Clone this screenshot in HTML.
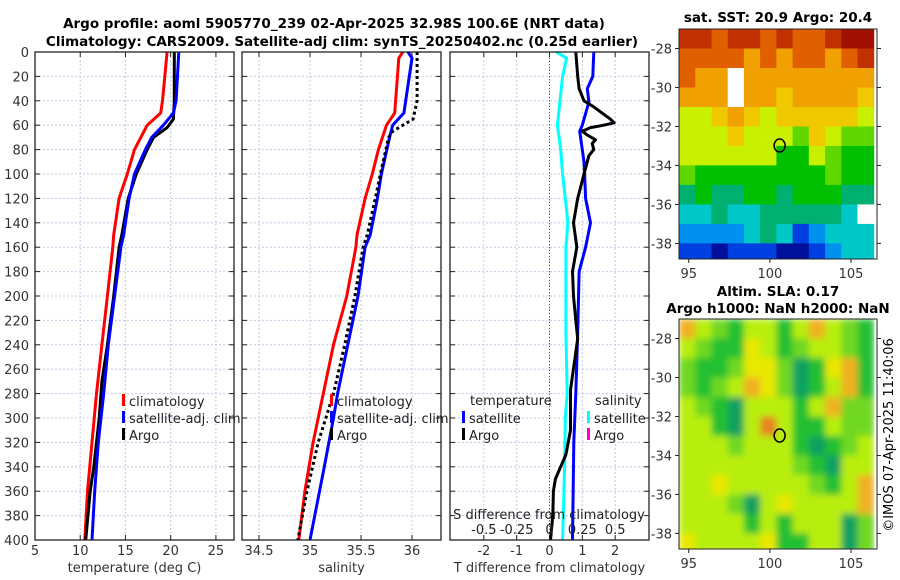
<!DOCTYPE html>
<html><head><meta charset="utf-8">
<style>
html,body{margin:0;padding:0;background:#fff;}
svg{display:block;font-family:"DejaVu Sans","Liberation Sans",sans-serif;}
</style></head>
<body>
<svg id="fig" width="900" height="580" viewBox="0 0 900 580" xmlns="http://www.w3.org/2000/svg">
<defs>
<filter id="blur" x="0" y="0" width="1" height="1"><feGaussianBlur stdDeviation="3.5"/></filter>
<clipPath id="clipm2"><rect x="679" y="319" width="198" height="230"/></clipPath>
</defs>
<text x="334" y="28" text-anchor="middle" font-size="13.5" font-weight="bold">Argo profile: aoml 5905770_239 02-Apr-2025 32.98S 100.6E (NRT data)</text>
<text x="342" y="46" text-anchor="middle" font-size="13.5" font-weight="bold">Climatology: CARS2009. Satellite-adj clim: synTS_20250402.nc (0.25d earlier)</text>
<text x="778" y="22" text-anchor="middle" font-size="13.5" font-weight="bold">sat. SST: 20.9 Argo: 20.4</text>
<text x="778" y="296" text-anchor="middle" font-size="13.5" font-weight="bold">Altim. SLA: 0.17</text>
<text x="778" y="313" text-anchor="middle" font-size="13.5" font-weight="bold">Argo h1000: NaN h2000: NaN</text>
<text transform="translate(893,435) rotate(-90)" text-anchor="middle" font-size="13">©IMOS 07-Apr-2025 11:40:06</text>
<g id="layer"></g>
</svg>
<script>
// ---------- data ----------
const depthTicks = [0,20,40,60,80,100,120,140,160,180,200,220,240,260,280,300,320,340,360,380,400];
const tTicks = [5,10,15,20,25];
const sTicks = [34.5,35,35.5,36];
const dTTicks = [-2,-1,0,1,2];
const dSTickLabels = ["-0.5","-0.25","0","0.25","0.5"];
const dSTicks = [-0.5,-0.25,0,0.25,0.5];

const climTDepth = [0,40,50,60,80,100,120,150,160,200,240,280,320,360,400];
const climT      = [19.6,19.1,18.9,17.4,16.0,15.2,14.3,13.7,13.6,13.0,12.4,11.8,11.3,10.8,10.5];
const satTDepth  = [0,40,50,60,70,80,100,120,150,160,200,240,280,320,360,400];
const satT       = [20.9,20.6,20.3,19.2,17.9,17.2,16.0,15.4,14.8,14.5,13.8,13.1,12.6,12.0,11.6,11.3];
const argoTDepth = [0,40,55,62,70,80,100,120,150,160,200,240,270,300,340,360,400];
const argoT      = [20.4,20.4,20.3,19.6,18.1,17.4,16.2,15.3,14.6,14.3,13.7,13.0,12.4,12.1,11.5,11.1,10.6];

const climSDepth = [0,5,50,60,80,100,120,150,160,200,240,280,320,360,400];
const climS      = [35.91,35.87,35.83,35.75,35.67,35.61,35.54,35.46,35.45,35.36,35.23,35.13,35.03,34.95,34.89];
const satSDepth  = [0,5,50,60,70,100,120,150,160,200,240,280,300,340,400];
const satS       = [35.96,36.0,35.92,35.81,35.78,35.70,35.66,35.59,35.54,35.47,35.37,35.27,35.23,35.14,35.0];
const argoSDepth = [0,40,55,65,70,100,120,150,160,200,240,280,320,360,400];
const argoS      = [36.05,36.05,36.01,35.81,35.77,35.69,35.64,35.56,35.52,35.44,35.34,35.23,35.08,34.97,34.88];

const satDSDepth = [0,5,20,60,80,100,120,140,160,200,230,280,300,340,400];
const satDS      = [0.05,0.13,0.10,0.06,0.085,0.10,0.12,0.14,0.125,0.125,0.125,0.135,0.12,0.115,0.10];
const satDTDepth = [0,20,30,41,60,65,90,100,120,140,160,180,230,280,320,400];
const satDT      = [1.35,1.32,1.15,1.2,1.0,0.92,1.05,1.07,1.1,1.25,1.1,0.9,0.86,0.8,0.74,0.7];
const argoDTDepth= [0,20,30,40,45,55,58,60,62,65,68,72,75,80,85,100,120,140,160,180,200,220,235,277,310,330,350,360,380,400];
const argoDT     = [0.8,0.86,0.9,1.05,1.35,1.85,1.97,1.65,1.25,1.0,1.15,1.4,1.3,1.35,1.2,1.05,0.86,0.73,0.83,0.7,0.73,0.8,0.86,0.64,0.64,0.5,0.18,0.12,0.1,0.03];

const sstLevels = [
[11,11,10,11,11,10,11,10,10,11,12,12],
[10,10,10,10,9,10,9,10,10,9,10,11],
[10,9,9,-1,9,9,9,9,9,9,9,9],
[9,9,9,-1,9,9,8,9,9,9,9,8],
[7,7,8,9,8,7,8,8,8,8,8,7],
[7,7,7,8,7,7,7,6,8,7,6,6],
[7,7,7,7,7,7,5,5,7,6,5,5],
[6,5,5,5,5,5,5,5,5,6,5,5],
[4,5,4,4,5,5,4,5,5,5,4,4],
[3,3,4,3,3,4,4,4,4,4,3,-1],
[2,2,2,2,3,4,3,1,2,3,3,3],
[1,1,0,1,1,1,0,0,1,2,3,3]];
const slaLevels = [
[5,3,2,1,3,3,1,3,5,3,2,1],
[3,2,1,1,4,3,1,2,3,3,2,1],
[2,1,1,2,4,4,2,0,1,4,5,1],
[2,1,2,3,5,4,2,0,1,3,5,1],
[3,2,1,0,3,3,3,1,3,5,2,2],
[3,3,1,0,3,6,3,1,1,3,2,2],
[3,3,3,2,3,3,3,1,0,1,2,3],
[3,3,3,3,3,3,3,2,1,0,3,3],
[3,3,4,3,3,3,3,3,2,1,3,5],
[3,3,3,2,0,3,4,3,3,3,3,5],
[3,3,3,3,1,3,1,3,3,3,0,2],
[4,3,3,3,3,4,1,1,3,3,0,2]];
const lonTicks = [95,100,105];
const latTicks = [-28,-30,-32,-34,-36,-38];
const argoLon = 100.6, argoLat = -32.98;

// ---------- helpers ----------
const NS = "http://www.w3.org/2000/svg";
const layer = document.getElementById('layer');
function mk(tag, attrs, parent){ const e=document.createElementNS(NS,tag); for(const k in attrs) e.setAttribute(k,attrs[k]); (parent||layer).appendChild(e); return e; }
const Y0=52, Y1=540;
const yD = d => Y0 + d*(Y1-Y0)/400;

function panel(name, x0, x1, vmin, vmax, ticks, labels, xlabel){
  const sx = v => x0 + (v-vmin)*(x1-x0)/(vmax-vmin);
  const g = mk('g',{});
  
  
  depthTicks.forEach(d=>{
    const l=mk('line',{x1:x0,x2:x1,y1:yD(d),y2:yD(d),stroke:'#c4c8e6','stroke-width':1,'stroke-dasharray':'2,2'},g);
     
    mk('line',{x1:x0,x2:x0+5,y1:yD(d),y2:yD(d),stroke:'#222'},g);
    mk('line',{x1:x1-5,x2:x1,y1:yD(d),y2:yD(d),stroke:'#222'},g);
  });
  ticks.forEach((t,i)=>{
    const x=sx(t);
    const l=mk('line',{x1:x,x2:x,y1:Y0,y2:Y1,stroke:'#c4c8e6','stroke-width':1,'stroke-dasharray':'2,2'},g);
     
    mk('line',{x1:x,x2:x,y1:Y1-5,y2:Y1,stroke:'#222'},g);
    mk('line',{x1:x,x2:x,y1:Y0,y2:Y0+5,stroke:'#222'},g);
    const tx=mk('text',{x:x,y:555,'text-anchor':'middle','font-size':13,fill:'#333'},g);
    tx.textContent = labels ? labels[i] : t;
     
  });
  const xl=mk('text',{x:(x0+x1)/2,y:572,'text-anchor':'middle','font-size':13,fill:'#333'},g);
  xl.textContent=xlabel;
   
  return {g, sx};
}
function frame(g,x0,x1){ const r=mk('rect',{x:x0,y:Y0,width:x1-x0,height:Y1-Y0,fill:'none',stroke:'#222','stroke-width':1.3},g);   }
function line(g, sx, vals, depths, color, name, dash){
  const pts = vals.map((v,i)=>sx(v).toFixed(1)+','+yD(depths[i]).toFixed(1)).join(' ');
  const a={points:pts,fill:'none',stroke:color,'stroke-width':3,'stroke-linejoin':'round'};
  if(dash) a['stroke-dasharray']=dash;
  const p=mk('polyline',a,g);
  
  
}
function legend(g, x, y, items){
  items.forEach((it,i)=>{
    const yy = y + i*17;
    const m=mk('rect',{x:x,y:yy-7,width:3,height:12,fill:it[1]},g);
     
    const t=mk('text',{x:x+7,y:yy+5,'font-size':13,fill:'#222'},g);
    t.textContent=it[0];
     
  });
}

// depth labels
depthTicks.forEach(d=>{
  const t=mk('text',{x:29,y:yD(d)+5,'text-anchor':'end','font-size':13,fill:'#333'});
  t.textContent=d;
  
  
});

// panel 1 temperature
const p1 = panel('temperature-panel', 35, 234, 5, 27, tTicks, null, 'temperature (deg C)');
line(p1.g,p1.sx,climT,climTDepth,'#ff0000','temp-climatology-line');
line(p1.g,p1.sx,argoT,argoTDepth,'#000','temp-argo-line');
line(p1.g,p1.sx,satT,satTDepth,'#0000ff','temp-satellite-line');
legend(p1.g,122,401,[['climatology','#ff0000'],['satellite-adj. clim','#0000ff'],['Argo','#000']]);
frame(p1.g,35,234);

// panel 2 salinity
const p2 = panel('salinity-panel', 242, 441, 34.333, 36.284, sTicks, null, 'salinity');
line(p2.g,p2.sx,climS,climSDepth,'#ff0000','sal-climatology-line');
line(p2.g,p2.sx,satS,satSDepth,'#0000ff','sal-satellite-line');
line(p2.g,p2.sx,argoS,argoSDepth,'#000','sal-argo-line','3,3');
legend(p2.g,330,401,[['climatology','#ff0000'],['satellite-adj. clim','#0000ff'],['Argo','#000']]);
frame(p2.g,242,441);

// panel 3 differences
const p3 = panel('difference-panel', 450, 649, -3.03, 3.03, dTTicks, null, 'T difference from climatology');
const sxS = v => p3.sx(v*4);
const zl=mk('line',{x1:p3.sx(0),x2:p3.sx(0),y1:Y0,y2:Y1,stroke:'#4a5a2a','stroke-width':1,'stroke-dasharray':'1,2'},p3.g);
 
line(p3.g,sxS,satDS,satDSDepth,'#00ffff','sal-diff-satellite-line');
line(p3.g,p3.sx,satDT,satDTDepth,'#0000ff','temp-diff-satellite-line');
line(p3.g,p3.sx,argoDT,argoDTDepth,'#000','temp-diff-argo-line');
const tt=mk('text',{x:470,y:405,'font-size':13,fill:'#222'},p3.g); tt.textContent='temperature';
 
legend(p3.g,462,418,[['satellite','#0000ff'],['Argo','#000']]);
const st=mk('text',{x:595,y:405,'font-size':13,fill:'#222'},p3.g); st.textContent='salinity';
 
legend(p3.g,587,418,[['satellite','#00ffff'],['Argo','#ff00cc']]);
const sdt=mk('text',{x:549,y:519,'text-anchor':'middle','font-size':13,fill:'#222'},p3.g); sdt.textContent='S difference from climatology';
 
dSTicks.forEach((s,i)=>{
  const t=mk('text',{x:sxS(s),y:534,'text-anchor':'middle','font-size':13,fill:'#222'},p3.g);
  t.textContent=dSTickLabels[i];
   
});
frame(p3.g,450,649);

// ---------- maps ----------
const MX0=679, MX1=877, LON0=94.4, LON1=106.6;
const mx = lon => MX0 + (lon-LON0)*(MX1-MX0)/(LON1-LON0);
const sstColors = ['#00109a','#0040e0','#0090f0','#00c8c8','#00b070','#00c000','#60d800','#c8f000','#f0c800','#f0a000','#e06000','#c03000','#a01000'];
const slaColors = ['#10a060','#20c030','#70d820','#b8ee10','#e8e800','#f0b020','#e88020'];

function map(name, levels, colors, top, bottom, latTop, latBot, blur){
  const my = lat => top + (latTop-lat)*(bottom-top)/(latTop-latBot);
  const g=mk('g',{});
  
  
  const cg=mk('g',blur?{filter:'url(#blur)'}:{},blur?mk('g',{'clip-path':'url(#clipm2)'},g):g);
  levels.forEach((row,r)=>row.forEach((v,c)=>{
    const x=mx(LON0+c), w=mx(LON0+c+1)-x+0.5;
    const y=my(latTop-r), h=my(latTop-r-1)-y+0.5;
    const cell=mk('rect',{x:x.toFixed(1),y:y.toFixed(1),width:Math.min(w,MX1-x+(blur?8:0)).toFixed(1),height:Math.min(h,bottom-y+(blur?8:0)).toFixed(1),fill:v<0?'#fff':colors[v]},cg);
    
    
  }));
  const fr=mk('rect',{x:MX0,y:top,width:MX1-MX0,height:bottom-top,fill:'none',stroke:'#222','stroke-width':1},g);
   
  latTicks.forEach(lat=>{
    const y=my(lat);
    mk('line',{x1:MX0-4,x2:MX0,y1:y,y2:y,stroke:'#222'},g);
    mk('line',{x1:MX1,x2:MX1+4,y1:y,y2:y,stroke:'#222'},g);
    const t=mk('text',{x:MX0-7,y:y+5,'text-anchor':'end','font-size':13,fill:'#333'},g);
    t.textContent=lat;
     
  });
  lonTicks.forEach(lon=>{
    const x=mx(lon);
    mk('line',{x1:x,x2:x,y1:bottom,y2:bottom+4,stroke:'#222'},g);
    const t=mk('text',{x:x,y:bottom+19,'text-anchor':'middle','font-size':13,fill:'#333'},g);
    t.textContent=lon;
     
  });
  const m=mk('ellipse',{cx:mx(argoLon),cy:my(argoLat),rx:5.5,ry:6.5,fill:'none',stroke:'#000','stroke-width':1.5},g);
  
  
}
map('sst-map', sstLevels, sstColors, 29, 259, -27, -38.8, false);
map('sla-map', slaLevels, slaColors, 319, 549, -27, -38.8, true);
</script>
</body></html>
